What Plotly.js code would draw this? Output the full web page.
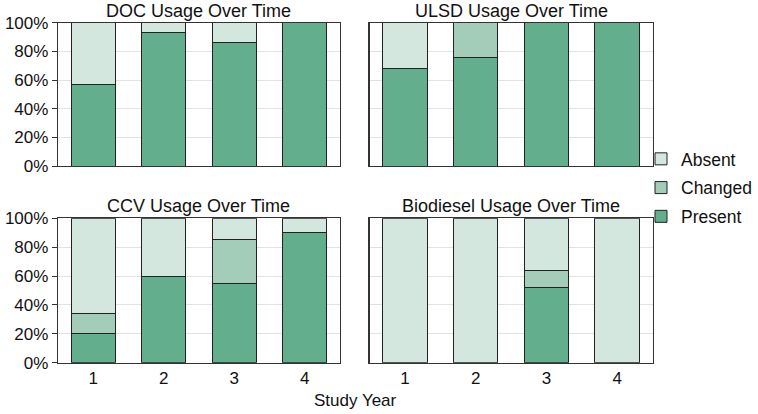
<!DOCTYPE html>
<html><head><meta charset="utf-8">
<script src="https://cdn.plot.ly/plotly-3.0.1.min.js"></script>
<style>html,body{margin:0;padding:0;background:#fff}</style>
</head><body><div id="chart" style="width:758px;height:414px"></div>
<script>
const years = ['1','2','3','4'];
const panels = ['DOC Usage Over Time','ULSD Usage Over Time','CCV Usage Over Time','Biodiesel Usage Over Time'];
const docPresent = [57, 93, 86, 100];
const docChanged = [0, 0, 0, 0];
const docAbsent  = [43, 7, 14, 0];
const ulsdPresent = [68, 76, 100, 100];
const ulsdChanged = [0, 24, 0, 0];
const ulsdAbsent  = [32, 0, 0, 0];
const ccvPresent = [20, 60, 55, 90];
const ccvChanged = [14, 0, 30, 0];
const ccvAbsent  = [66, 40, 15, 10];
const bioPresent = [0, 0, 52, 0];
const bioChanged = [0, 0, 12, 0];
const bioAbsent  = [100, 100, 36, 100];
const seriesNames = ['Present','Changed','Absent'];
const legendRanks = [3, 2, 1];
const colors = ['#63ae8c','#a3cdb9','#d3e7de'];
const data = [
  [docPresent, docChanged, docAbsent],
  [ulsdPresent, ulsdChanged, ulsdAbsent],
  [ccvPresent, ccvChanged, ccvAbsent],
  [bioPresent, bioChanged, bioAbsent]
];
const traces = [];
data.forEach((set, p) => {
  const ax = p === 0 ? '' : String(p + 1);
  set.forEach((vals, s) => {
    traces.push({
      type: 'bar', x: years, y: vals.map(v => v === 0 ? null : v), name: seriesNames[s],
      xaxis: 'x' + ax, yaxis: 'y' + ax,
      marker: {color: colors[s], line: {color: '#222', width: 1}},
      width: 0.63, showlegend: p === 0, legendgroup: seriesNames[s], legendrank: legendRanks[s],
      hoverinfo: 'skip'
    });
  });
});
const font = {family: 'Liberation Sans, Arial, sans-serif', color: '#111'};
const xd = [[0.0765, 0.4485], [0.4875, 0.861]];
const yd = [[0.599, 0.945], [0.124, 0.4727]];
const layout = {
  width: 758, height: 414, margin: {l: 0, r: 0, t: 0, b: 0},
  paper_bgcolor: '#fff', plot_bgcolor: '#fff', barmode: 'stack', bargap: 0.37,
  font: Object.assign({size: 17}, font),
  showlegend: true,
  legend: {x: 1, y: 0.546, yanchor: 'middle', xanchor: 'right',
           traceorder: 'grouped', tracegroupgap: 3, itemwidth: 30, borderwidth: 0,
           font: Object.assign({size: 17.5}, font), bgcolor: 'rgba(0,0,0,0)'},
  annotations: []
};
for (let p = 0; p < 4; p++) {
  const ax = p === 0 ? '' : String(p + 1);
  const col = p % 2, row = Math.floor(p / 2);
  layout['xaxis' + ax] = {
    domain: xd[col], anchor: 'y' + ax, type: 'category', range: [-0.5, 3.5],
    showticklabels: row === 1, ticks: '', showgrid: false, zeroline: false,
    showline: true, linecolor: '#333', linewidth: 1.2, mirror: true,
    tickfont: Object.assign({size: 17}, font), fixedrange: true
  };
  layout['yaxis' + ax] = {
    domain: yd[row], anchor: 'x' + ax, range: [0, 100], dtick: 20,
    ticksuffix: '%', showticklabels: col === 0,
    ticks: col === 0 ? 'outside' : '', ticklen: 5, tickcolor: '#333',
    showgrid: true, gridcolor: '#e2e2e2', gridwidth: 1, zeroline: false,
    showline: true, linecolor: '#333', linewidth: 1.2, mirror: true,
    tickfont: Object.assign({size: 17}, font), fixedrange: true
  };
  layout.annotations.push({
    text: panels[p], xref: 'paper', yref: 'paper',
    x: (xd[col][0] + xd[col][1]) / 2, y: yd[row][1], yanchor: 'bottom', xanchor: 'center',
    yshift: 0, showarrow: false, font: Object.assign({size: 18}, font)
  });
}
layout.annotations.push({
  text: 'Study Year', xref: 'paper', yref: 'paper', x: 0.4685, y: 0.0, yanchor: 'bottom',
  xanchor: 'center', yshift: 2, showarrow: false, font: Object.assign({size: 17}, font)
});
Plotly.newPlot('chart', traces, layout, {displayModeBar: false, staticPlot: true});
</script></body></html>
